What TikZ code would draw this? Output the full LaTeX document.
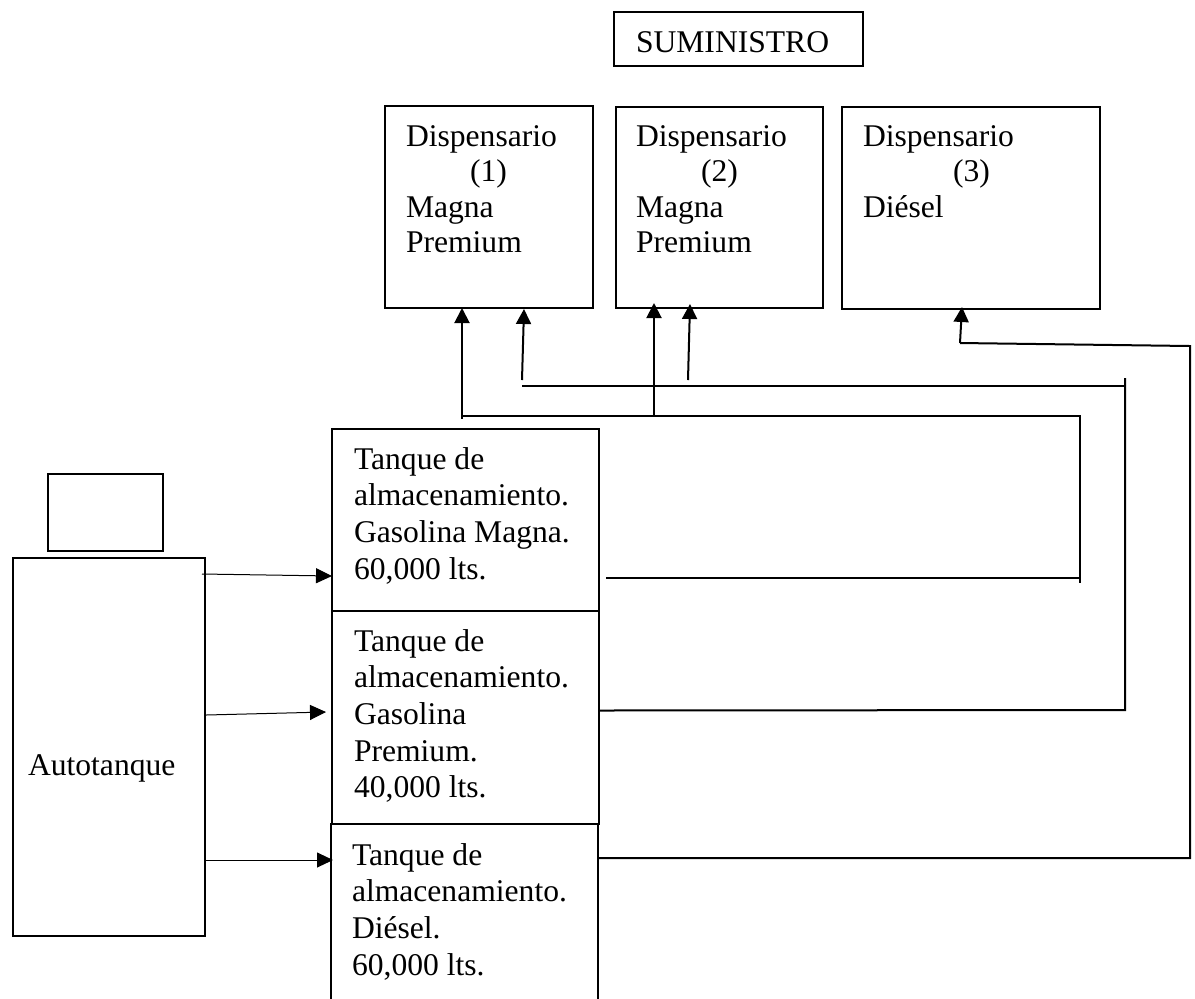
\documentclass[tikz,border=0pt]{standalone}
\usepackage{fontspec}
\setmainfont{Liberation Serif}
\usetikzlibrary{arrows.meta,calc,fit}
\tikzset{
  box/.style={draw, line width=1pt, inner sep=0pt, outer sep=0pt},
  lbl/.style={inner sep=0pt, outer sep=0pt, align=left, anchor=north west, font=\fontsize{15.8}{17.75}\selectfont},
  tlbl/.style={lbl, font=\fontsize{15.8}{18.3}\selectfont},
  pipe/.style={line width=1pt},
  arr/.style={line width=1pt, -{Triangle[length=7.5pt,width=7.5pt]}},
  feed/.style={line width=0.5pt, -{Triangle[length=8pt,width=7.5pt]}}
}
\begin{document}
\begin{tikzpicture}[x=0.5pt,y=-0.5pt]
\useasboundingbox (0,0) rectangle (1195,998);
% title
\node[box, fit={(614,12) (863,66)}] (sum) {};
\node[lbl, anchor=base west] (sumt) at (636,52) {SUMINISTRO};
% dispensers
\node[box, fit={(385,106) (593,308)}] (d1) {};
\node[lbl] (d1t) at (406,125.4) {Dispensario\\\hspace*{32pt}(1)\\Magna\\Premium};
\node[box, fit={(616,107) (823,308)}] (d2) {};
\node[lbl] (d2t) at (636,125.4) {Dispensario\\\hspace*{32.5pt}(2)\\Magna\\Premium};
\node[box, fit={(842,107) (1100,309)}] (d3) {};
\node[lbl] (d3t) at (863,125.4) {Dispensario\\\hspace*{45pt}(3)\\Diésel};
% tanks
\node[box, fit={(332,429) (599,611)}] (t1) {};
\node[tlbl] (t1t) at (354,447.4) {Tanque de\\almacenamiento.\\Gasolina Magna.\\60,000 lts.};
\node[box, fit={(332,611) (599,824)}] (t2) {};
\node[tlbl] (t2t) at (354,629.4) {Tanque de\\almacenamiento.\\Gasolina\\Premium.\\40,000 lts.};
\node[box, fit={(331,824) (598,1012)}] (t3) {};
\node[tlbl] (t3t) at (352,843.4) {Tanque de\\almacenamiento.\\Diésel.\\60,000 lts.};
% autotanque
\node[box, fit={(48,474) (163,551)}] (cab) {};
\node[box, fit={(13,558) (205,936)}] (auto) {};
\node[lbl, anchor=base west] (autot) at (28,775) {Autotanque};
% feed arrows
\draw[feed] ($(auto.north east)+(-3,16)$) -- ($(t1.north west)+(0,147)$);
\draw[feed] ($(auto.north east)+(1,157)$) -- ($(t2.north west)+(-6,101)$);
\draw[feed] ($(auto.north east)+(1,302)$) -- ($(t3.north west)+(2,36)$);
% tank 1 (Magna) to dispensers 1 and 2
\coordinate (p1a) at (1080,578);
\coordinate (p1b) at (1080,416);
\coordinate (p1c) at (462,416);
\coordinate (p1d) at (654,416);
\draw[pipe] ($(t1.south east)+(7,-33)$) -- (p1a) -- (p1b) -- (p1c);
\draw[pipe] (p1a) -- ++(0,5);
\draw[pipe] (p1c) -- ++(0,3);
\draw[arr] (p1c) -- (p1c |- d1.south);
\draw[arr] (p1d) -- ($(p1d |- d2.south)+(0,-5)$);
% tank 2 (Premium) to dispensers 1 and 2
\coordinate (p2a) at (1125,710);
\coordinate (p2b) at (1125,386);
\coordinate (p2c) at (522,386);
\coordinate (p2d) at (522,380);
\coordinate (p2e) at (688,380);
\draw[pipe] ($(t2.east)+(0,-7)$) -- (p2a) -- (1125,378);
\draw[pipe] (p2b) -- (p2c);
\draw[arr] (p2d) -- ($(d1.south west)+(139,1)$);
\draw[arr] (p2e) -- ($(d2.south west)+(74,-4)$);
% tank 3 (Diesel) to dispenser 3
\coordinate (p3a) at (1190,858);
\coordinate (p3b) at (1190,346);
\coordinate (p3c) at (960,343);
\draw[pipe] ($(t3.north east)+(0,34)$) -- (p3a) -- (p3b) -- (p3c);
\draw[arr] (p3c) -- ($(d3.south west)+(120,-2)$);
\end{tikzpicture}
\end{document}
